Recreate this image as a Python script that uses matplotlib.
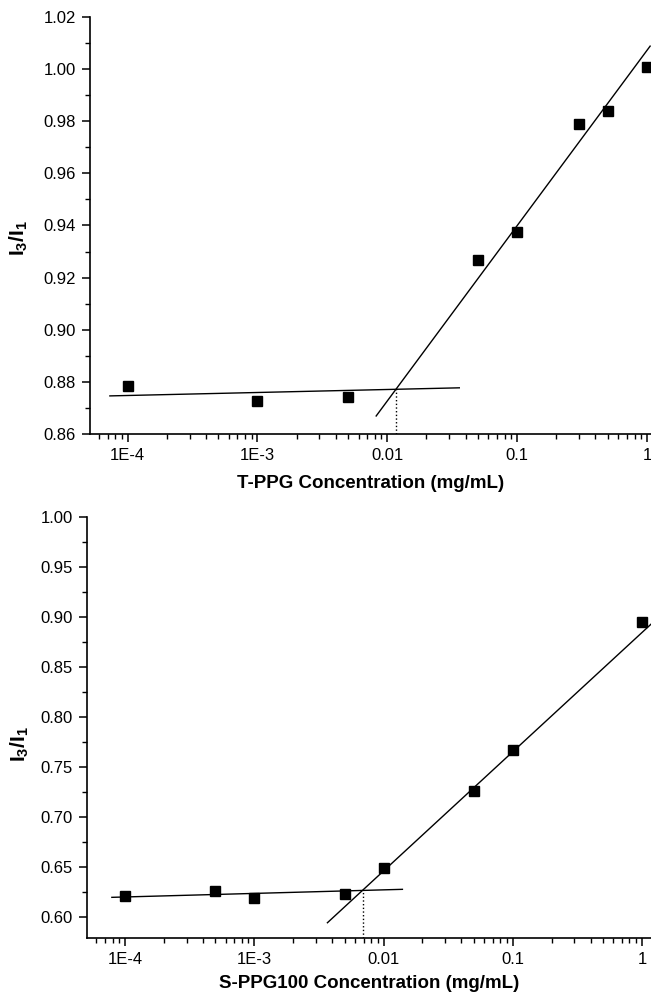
import numpy as np
import matplotlib
matplotlib.use('Agg')
import matplotlib.pyplot as plt
from matplotlib.ticker import FixedLocator, FixedFormatter, LogLocator, MultipleLocator

plt.rcParams['font.family'] = ['Liberation Sans', 'DejaVu Sans']
plt.rcParams['mathtext.fontset'] = 'custom'
plt.rcParams['mathtext.rm'] = 'Liberation Sans'
plt.rcParams['mathtext.bf'] = 'Liberation Sans:bold'

# T-PPG data
conc_t = [1e-4, 1e-3, 5e-3, 0.05, 0.1, 0.3, 0.5, 1.0]
ratio_t = [0.8785, 0.8727, 0.8742, 0.9266, 0.9374, 0.9788, 0.9838, 1.0006]
# fitted lines (end points)
flat_x_t = [7.3e-5, 0.0358]
flat_y_t = [0.8746, 0.8777]
steep_x_t = [0.0082, 1.055]
steep_y_t = [0.8669, 1.0088]
cmc_t = 0.0117
cmc_y_t = 0.8775

# S-PPG100 data
conc_s = [1e-4, 5e-4, 1e-3, 5e-3, 0.01, 0.05, 0.1, 1.0]
ratio_s = [0.621, 0.6257, 0.619, 0.6227, 0.6487, 0.7263, 0.7667, 0.8947]
flat_x_s = [7.9e-5, 0.014]
flat_y_s = [0.6197, 0.6277]
steep_x_s = [0.00368, 1.195]
steep_y_s = [0.5943, 0.8937]
cmc_s = 0.00697
cmc_y_s = 0.6263

xticks = [1e-4, 1e-3, 1e-2, 0.1, 1]
xticklabels = ['1E-4', '1E-3', '0.01', '0.1', '1']

fig = plt.figure(figsize=(6.51, 9.96), dpi=100)
ax1 = fig.add_axes([0.1382, 0.5643, 0.8618, 0.4187])
ax2 = fig.add_axes([0.1336, 0.0582, 0.8664, 0.4227])


def style(ax, ylo, yhi, ymaj, ymin, xlabel, xlo, xhi, xpad, ylab_x, ylab_y):
    ax.set_xscale('log')
    ax.set_xlim(xlo, xhi)
    ax.set_ylim(ylo, yhi)
    ax.spines['top'].set_visible(False)
    ax.spines['right'].set_visible(False)
    ax.spines['left'].set_linewidth(1.2)
    ax.spines['bottom'].set_linewidth(1.2)
    ax.xaxis.set_major_locator(FixedLocator(xticks))
    ax.xaxis.set_major_formatter(FixedFormatter(xticklabels))
    ax.xaxis.set_minor_locator(LogLocator(base=10, subs=np.arange(2, 10)))
    ax.yaxis.set_major_locator(MultipleLocator(ymaj))
    ax.yaxis.set_minor_locator(MultipleLocator(ymin))
    ax.yaxis.set_major_formatter(plt.FormatStrFormatter('%.2f'))
    ax.tick_params(which='major', direction='out', length=6, width=1.1, labelsize=12, colors='black', pad=4)
    ax.tick_params(which='minor', direction='out', length=3.5, width=1.0)
    ax.tick_params(axis='x', which='minor', labelbottom=False)
    ax.set_xlabel(xlabel, fontsize=13.5, fontweight='bold', labelpad=xpad)
    ax.set_ylabel(r'$\mathbf{I_3/I_1}$', fontsize=15)
    ax.yaxis.set_label_coords(ylab_x, ylab_y)


style(ax1, 0.86, 1.02, 0.02, 0.01, 'T-PPG Concentration (mg/mL)', 10**-4.29, 10**0.03, 9, -0.106, 0.47)
ax1.plot(conc_t, ratio_t, 's', color='black', markersize=6.5, clip_on=False)
ax1.plot(flat_x_t, flat_y_t, '-', color='black', lw=1.0)
ax1.plot(steep_x_t, steep_y_t, '-', color='black', lw=1.0)
ax1.plot([cmc_t, cmc_t], [0.86, cmc_y_t], ':', color='black', lw=1.0)

style(ax2, 0.579, 1.00, 0.05, 0.025, 'S-PPG100 Concentration (mg/mL)', 10**-4.295, 10**0.07, 6, -0.1, 0.46)
ax2.plot(conc_s, ratio_s, 's', color='black', markersize=6.5, clip_on=False)
ax2.plot(flat_x_s, flat_y_s, '-', color='black', lw=1.0)
ax2.plot(steep_x_s, steep_y_s, '-', color='black', lw=1.0)
ax2.plot([cmc_s, cmc_s], [0.579, cmc_y_s], ':', color='black', lw=1.0)

fig.savefig('out.png', dpi=100)
